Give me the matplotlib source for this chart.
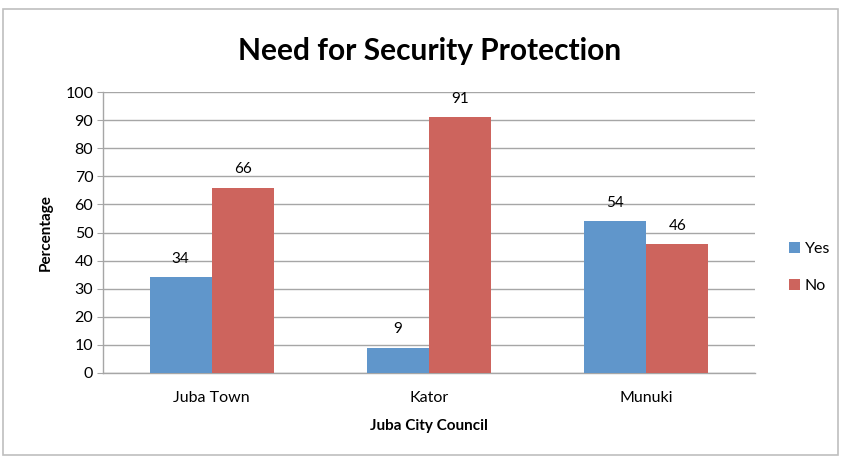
import numpy as np
import matplotlib.pyplot as plt
from matplotlib.patches import Rectangle

councils = ['Juba Town', 'Kator', 'Munuki']
yes_pct = [34, 9, 54]
no_pct = [66, 91, 46]

BLUE = '#6096CB'
RED = '#CD645D'
GRID = '#A6A6A6'

plt.rcParams['font.family'] = ['Lato', 'DejaVu Sans']

fig = plt.figure(figsize=(8.43, 4.58), dpi=100)
ax = fig.add_axes([0.1222, 0.1856, 0.7734, 0.6134])

# outer chart frame
fig.patches.append(Rectangle((0.004, 0.006), 0.99, 0.974, transform=fig.transFigure,
                             fill=False, edgecolor='#BFBFBF', linewidth=1.2))

x = np.arange(len(councils))
w = 1 / 3.5
b_yes = ax.bar(x - w / 2, yes_pct, w, color=BLUE, label='Yes', zorder=3)
b_no = ax.bar(x + w / 2, no_pct, w, color=RED, label='No', zorder=3)

for bars, vals in ((b_yes, yes_pct), (b_no, no_pct)):
    for r, v in zip(bars, vals):
        ax.text(r.get_x() + r.get_width() / 2, v + 4, str(v),
                ha='center', va='bottom', fontsize=11)

ax.set_xlim(-0.5, 2.5)
ax.set_ylim(0, 100)
ax.set_yticks(range(0, 101, 10))
ax.set_xticks(x)
ax.set_xticklabels(councils)
ax.tick_params(axis='y', length=4, color=GRID, labelsize=11.5, pad=3)
ax.tick_params(axis='x', length=0, labelsize=11.5, pad=13)
ax.grid(axis='y', color=GRID, linewidth=1, zorder=0)
for s in ('top', 'right'):
    ax.spines[s].set_visible(False)
for s in ('left', 'bottom'):
    ax.spines[s].set_color(GRID)
    ax.spines[s].set_linewidth(1)

ax.set_ylabel('Percentage', fontsize=11, fontweight='bold', labelpad=9)
ax.set_xlabel('Juba City Council', fontsize=11, fontweight='bold', labelpad=10)
fig.text(0.509, 0.888, 'Need for Security Protection', ha='center', va='center',
         fontsize=21.5, fontweight='bold')

ax.legend(loc='center left', bbox_to_anchor=(1.03, 0.375), frameon=False,
          fontsize=11.5, handlelength=0.7, handleheight=0.7, handletextpad=0.3,
          labelspacing=1.4)

fig.savefig('out.png', dpi=100, facecolor='white')
